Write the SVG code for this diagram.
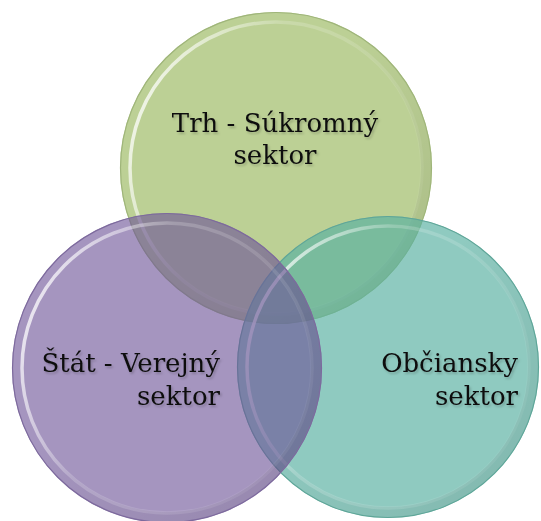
<svg xmlns="http://www.w3.org/2000/svg" width="541" height="521" viewBox="0 0 541 521">
  <defs>
    <linearGradient id="hl" x1="0" y1="0.3" x2="1" y2="0.7">
      <stop offset="0" stop-color="#ffffff" stop-opacity="0.8"/>
      <stop offset="0.35" stop-color="#ffffff" stop-opacity="0.2"/>
      <stop offset="1" stop-color="#ffffff" stop-opacity="0.05"/>
    </linearGradient>
    <linearGradient id="sh" x1="0" y1="0" x2="1" y2="1">
      <stop offset="0.4" stop-color="#000000" stop-opacity="0"/>
      <stop offset="1" stop-color="#000000" stop-opacity="0.1"/>
    </linearGradient>
    <filter id="ts" x="-10%" y="-30%" width="120%" height="160%">
      <feDropShadow dx="1.5" dy="2" stdDeviation="1" flood-color="#000" flood-opacity="0.2"/>
    </filter>
  </defs>
  <style>
    .lbl { font-family: "DejaVu Serif", serif; font-size: 26px; fill: #111; }
    .edge { fill: none; stroke-width: 1.2; }
    .ring { fill: none; stroke: url(#hl); stroke-width: 3.5; }
    .shade { fill: none; stroke: url(#sh); stroke-width: 10; }
  </style>
  <g id="node-trh">
    <circle cx="276" cy="168" r="156" fill="#bcd095"/>
    <circle class="shade" cx="276" cy="168" r="150"/>
    <circle class="ring" cx="276" cy="168" r="146"/>
    <circle class="edge" cx="276" cy="168" r="155.5" stroke="#9fb57a"/>
    <text class="lbl" filter="url(#ts)" x="275" y="132" text-anchor="middle">Trh - Súkromný</text>
    <text class="lbl" filter="url(#ts)" x="275" y="164" text-anchor="middle">sektor</text>
  </g>
  <g id="node-obciansky">
    <circle cx="388" cy="367" r="151" fill="#58b0a1" fill-opacity="0.67"/>
    <circle class="shade" cx="388" cy="367" r="145"/>
    <circle class="ring" cx="388" cy="367" r="141"/>
    <circle class="edge" cx="388" cy="367" r="150.5" stroke="#5fa598"/>
    <text class="lbl" filter="url(#ts)" x="518" y="372" text-anchor="end">Občiansky</text>
    <text class="lbl" filter="url(#ts)" x="518" y="405" text-anchor="end">sektor</text>
  </g>
  <g id="node-stat">
    <circle cx="167" cy="368" r="155" fill="#6e5498" fill-opacity="0.62"/>
    <circle class="shade" cx="167" cy="368" r="149"/>
    <circle class="ring" cx="167" cy="368" r="145"/>
    <circle class="edge" cx="167" cy="368" r="154.5" stroke="#7d6a9d"/>
    <text class="lbl" filter="url(#ts)" x="220" y="372" text-anchor="end">Štát - Verejný</text>
    <text class="lbl" filter="url(#ts)" x="220" y="405" text-anchor="end">sektor</text>
  </g>
  <g id="connectors"/>
</svg>
